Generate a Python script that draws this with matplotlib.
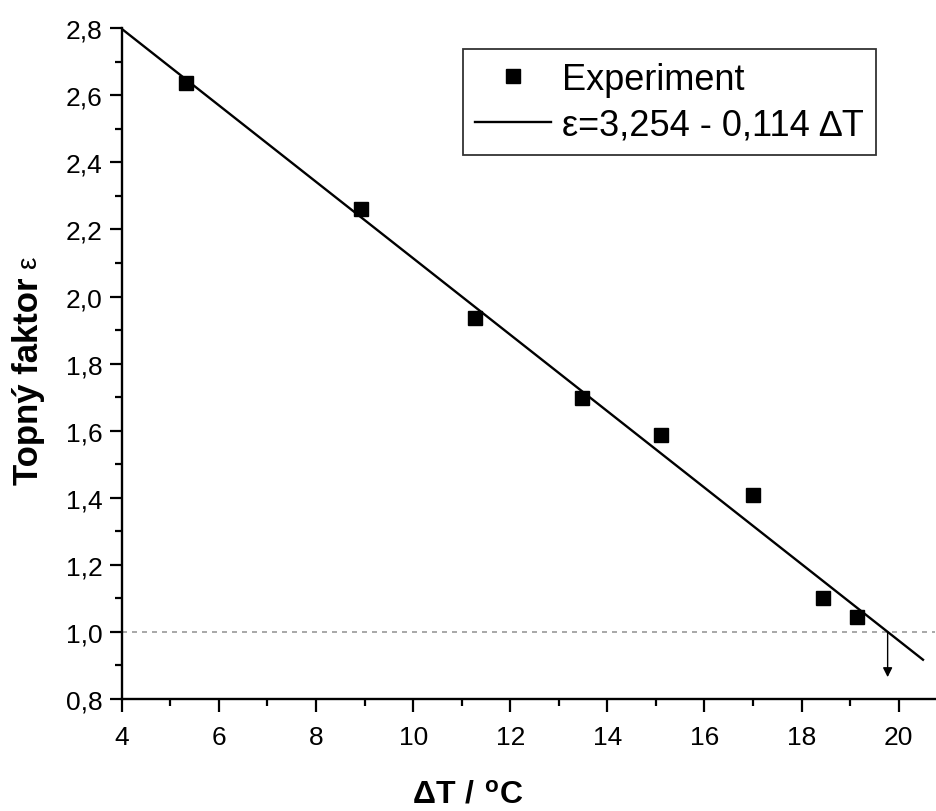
import numpy as np
import matplotlib.pyplot as plt
from matplotlib.ticker import MultipleLocator, FuncFormatter

plt.rcParams['font.family'] = ['Liberation Sans', 'DejaVu Sans']
plt.rcParams['mathtext.fontset'] = 'custom'
plt.rcParams['mathtext.rm'] = 'Liberation Sans'
plt.rcParams['mathtext.bf'] = 'Liberation Sans:bold'

# experimental points
dT = [5.32, 8.93, 11.28, 13.48, 15.11, 16.99, 18.45, 19.15]
eps = [2.636, 2.26, 1.936, 1.697, 1.587, 1.408, 1.101, 1.044]

# linear fit
fit_a = 3.254
fit_b = 0.114
fit_x = [4.0, 20.5]

fig = plt.figure(figsize=(9.37, 8.12), dpi=100)
ax = fig.add_axes([0.130, 0.138, 0.868, 0.826])

ax.plot(dT, eps, 's', color='black', markersize=9.5, label='Experiment', zorder=3)
fx = np.array(fit_x)
ax.plot(fx, fit_a - fit_b * fx, '-', color='black', lw=1.7,
        label='ε=3,254 - 0,114 ∆T')

# epsilon = 1 reference
ax.axhline(1.0, color='#999999', lw=1.2, ls=(0, (3, 3)), zorder=1)
x_one = (fit_a - 1.0) / fit_b
ax.annotate('', xy=(x_one, 0.865), xytext=(x_one, 1.0),
            arrowprops=dict(arrowstyle='-|>', color='black', lw=1.0,
                            mutation_scale=14, shrinkA=0, shrinkB=0))

ax.set_xlim(4, 20.75)
ax.set_ylim(0.8, 2.8)
ax.xaxis.set_major_locator(MultipleLocator(2))
ax.xaxis.set_minor_locator(MultipleLocator(1))
ax.yaxis.set_major_locator(MultipleLocator(0.2))
ax.yaxis.set_minor_locator(MultipleLocator(0.1))
ax.yaxis.set_major_formatter(FuncFormatter(lambda v, p: f'{v:.1f}'.replace('.', ',')))

for s in ['top', 'right']:
    ax.spines[s].set_visible(False)
for s in ['left', 'bottom']:
    ax.spines[s].set_linewidth(1.7)

ax.tick_params(which='major', direction='out', length=9, width=1.6, labelsize=19, pad=5)
ax.tick_params(which='minor', direction='out', length=5, width=1.6)
ax.tick_params(axis='x', which='major', pad=10)

# y label: bold text + thin epsilon
fig.text(0.030, 0.531, 'Topný faktor', rotation=90, fontsize=25, fontweight='bold',
         ha='center', va='center')
fig.text(0.031, 0.677, 'ε', rotation=90, fontsize=20, ha='center', va='center')

ax.set_xlabel(r'$\mathbf{\Delta T\ /\ ^{o}C}$', fontsize=23, va='center')
ax.xaxis.set_label_coords(0.425, -0.142)

leg = ax.legend(loc='upper left', bbox_to_anchor=(0.419, 0.969), fontsize=26,
                frameon=True, fancybox=False, edgecolor='black', handlelength=2.1,
                handletextpad=0.3, borderpad=0.35, labelspacing=0.3, borderaxespad=0)
leg.get_frame().set_linewidth(1.3)

fig.savefig('out.png', dpi=100)
